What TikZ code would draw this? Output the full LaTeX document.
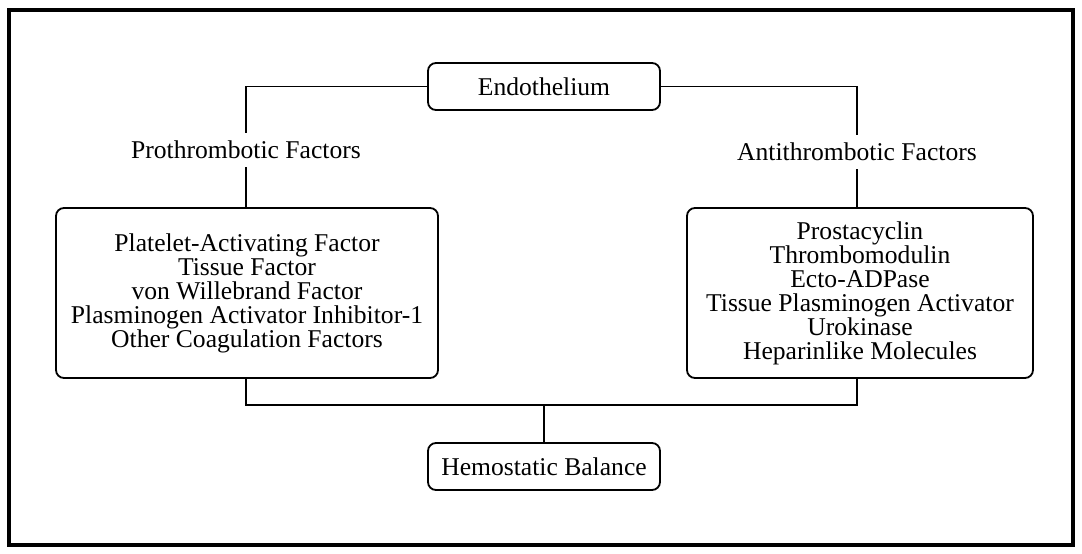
\documentclass[tikz,border=0pt]{standalone}
\usepackage{fontspec}
\setmainfont{Liberation Serif}
\usepackage{tikz}
\usetikzlibrary{positioning}
\newcommand{\hbfont}{\fontsize{12.8}{12}\selectfont}

\begin{document}
\begin{tikzpicture}[x=0.5pt,y=-0.5pt,
    every node/.style={font=\hbfont},
    rbox/.style={draw,line width=0.9pt,rounded corners=4pt,align=center,inner sep=0pt},
    lbl/.style={inner sep=4pt},
    conn/.style={line width=0.9pt}]
  \useasboundingbox (0,0) rectangle (1082,553);
  \draw[line width=1.8pt] (9,10) rectangle (1073,545);
  \node[rbox,minimum width=116pt,minimum height=23.5pt] (endo) at (544,86.5) {Endothelium};
  \node[lbl] (pro) at (246,150) {Prothrombotic Factors};
  \node[lbl] (anti) at (857,152) {Antithrombotic Factors};
  \node[rbox,minimum width=191pt,minimum height=85pt] (left) at (247,293)
    {Platelet-Activating Factor\\ Tissue Factor\\ von Willebrand Factor\\
     Plasminogen Activator Inhibitor-1\\ Other Coagulation Factors};
  \node[rbox,minimum width=173pt,minimum height=85pt] (right) at (860,293)
    {Prostacyclin\\ Thrombomodulin\\ Ecto-ADPase\\ Tissue Plasminogen Activator\\
     Urokinase\\ Heparinlike Molecules};
  \node[rbox,minimum width=116pt,minimum height=23.5pt] (hemo) at (544,466.5) {Hemostatic Balance};
  \coordinate (mid) at (544,405);
  \draw[conn] (endo.west) -| (pro.north);
  \draw[conn] (endo.east) -| (anti.north);
  \draw[conn] (pro.south) -- (pro.south |- left.north);
  \draw[conn] (anti.south) -- (anti.south |- right.north);
  \draw[conn] (pro.south |- left.south) |- (mid) -| (anti.south |- right.south);
  \draw[conn] (mid) -- (hemo.north);
\end{tikzpicture}
\end{document}
